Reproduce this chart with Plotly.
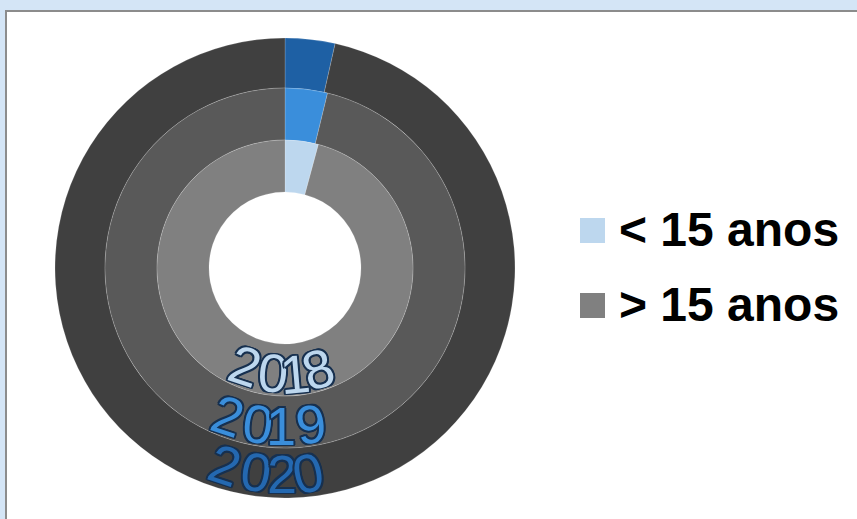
import plotly.graph_objects as go
import math

W, H = 857, 519

# Data: share of each age group per year (percent)
years = ["2018", "2019", "2020"]
categories = ["< 15 anos", "> 15 anos"]
share_under_15 = [4.2, 3.8, 3.5]
share_over_15 = [95.8, 96.2, 96.5]

# Ring styling, innermost (2018) to outermost (2020)
ring_colors = [
    ["#BDD7EE", "#808080"],
    ["#3A8EDB", "#595959"],
    ["#1E60A4", "#404040"],
]
label_fill = ["#BDD7EE", "#3A8EDB", "#2468B0"]
outline = "#17304F"

# Ring geometry in pixels
cx, cy = 285, 268
ring_outer = [128, 180, 230]
ring_inner = [76, 128, 180]


def px_x(x):
    return x / W


def px_y(y):
    return 1 - y / H


fig = go.Figure()

for i in reversed(range(len(years))):
    R = ring_outer[i]
    fig.add_trace(go.Pie(
        labels=categories,
        values=[share_under_15[i], share_over_15[i]],
        name=years[i],
        hole=ring_inner[i] / R,
        sort=False,
        direction="clockwise",
        rotation=0,
        textinfo="none",
        hoverinfo="label+value+name",
        showlegend=False,
        marker=dict(colors=ring_colors[i],
                    line=dict(color="rgba(255,255,255,0.22)", width=0.8)),
        domain=dict(x=[px_x(cx - R), px_x(cx + R)],
                    y=[px_y(cy + R), px_y(cy - R)]),
    ))

# Year labels laid out along the bottom of each ring
label_radius = [106, 158, 206]
label_angles = [
    [-22.0, -6.5, 5.5, 18.0],
    [-21.0, -10.0, -1.5, 9.5],
    [-17.0, -8.2, -0.8, 6.5],
]
label_tilt = [
    [18, 5, -5, -17],
    [18, 7, 0, -8],
    [18, 8, 0, -12],
]

shadow = ", ".join(
    f"{dx}px {dy}px 0 {outline}"
    for dx, dy in [(-1.6, -1.6), (1.6, -1.6), (-1.6, 1.6), (1.6, 1.6),
                   (0, 2), (0, -2), (2, 0), (-2, 0)]
)

annotations = []
for i, year in enumerate(years):
    for ch, ang, tilt in zip(year, label_angles[i], label_tilt[i]):
        a = math.radians(ang)
        x = cx + label_radius[i] * math.sin(a)
        y = cy + label_radius[i] * math.cos(a)
        annotations.append(dict(
            x=px_x(x), y=px_y(y), xref="paper", yref="paper",
            text=ch, showarrow=False, textangle=tilt,
            xanchor="center", yanchor="middle",
            width=30, height=40,
            font=dict(family="Liberation Sans", size=54,
                      color=label_fill[i], shadow=shadow),
        ))

# Legend drawn as swatches plus text
legend_rows_y = [229, 304]
legend_colors = ["#BDD7EE", "#808080"]
shapes = [
    dict(type="rect", xref="paper", yref="paper",
         x0=px_x(6), x1=px_x(W + 20), y0=px_y(H + 20), y1=px_y(11),
         fillcolor="white", line=dict(color="#8C8C8C", width=2), layer="below"),
]
for ry, col, cat in zip(legend_rows_y, legend_colors, categories):
    shapes.append(dict(type="rect", xref="paper", yref="paper",
                       x0=px_x(580), x1=px_x(605),
                       y0=px_y(ry + 14), y1=px_y(ry - 11),
                       fillcolor=col, line=dict(width=0), layer="above"))
    annotations.append(dict(
        x=px_x(617), y=px_y(ry), xref="paper", yref="paper",
        text=cat, showarrow=False, xanchor="left", yanchor="middle",
        font=dict(family="Liberation Sans", size=48, color="black",
                  weight="bold"),
    ))

fig.update_layout(
    width=W, height=H,
    margin=dict(l=0, r=0, t=0, b=0),
    paper_bgcolor="#D4E5F6",
    plot_bgcolor="white",
    shapes=shapes,
    annotations=annotations,
)

fig.write_html("out.html")
